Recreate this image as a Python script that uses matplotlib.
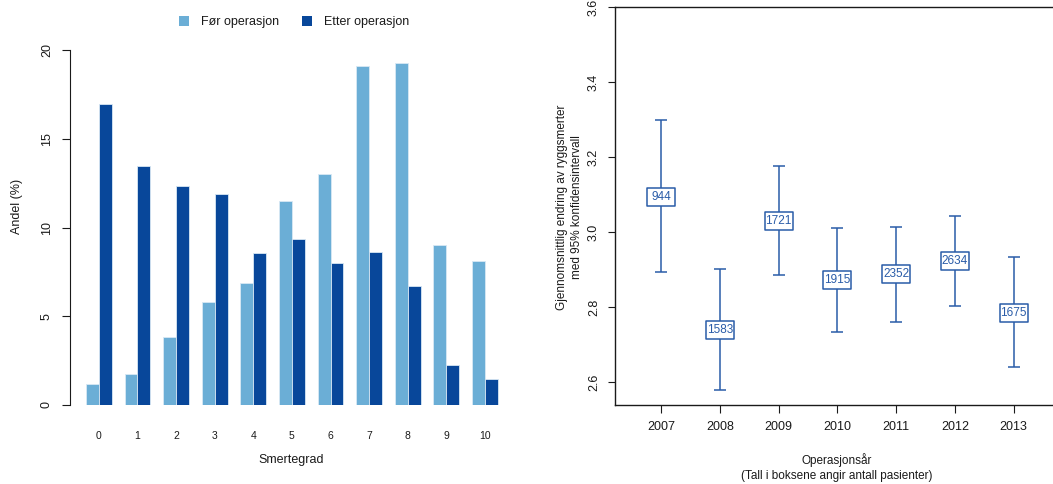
import matplotlib
matplotlib.use("Agg")
import matplotlib.pyplot as plt
import numpy as np
from matplotlib.path import Path
from matplotlib.patches import Patch

plt.rcParams["font.family"] = ["Liberation Sans", "DejaVu Sans"]

# ---- left panel data: pain grade distribution ----
grades = ["0", "1", "2", "3", "4", "5", "6", "7", "8", "9", "10"]
before = [1.2, 1.75, 3.85, 5.8, 6.9, 11.5, 13.05, 19.1, 19.3, 9.05, 8.1]
after = [17.0, 13.45, 12.35, 11.9, 8.55, 9.35, 8.0, 8.65, 6.7, 2.25, 1.45]
legend_labels = ["Før operasjon", "Etter operasjon"]

# ---- right panel data: mean change with 95% CI ----
years = [2007, 2008, 2009, 2010, 2011, 2012, 2013]
means = [3.095, 2.740, 3.031, 2.873, 2.889, 2.924, 2.786]
ci_low = [2.893, 2.579, 2.886, 2.735, 2.762, 2.804, 2.641]
ci_high = [3.299, 2.901, 3.178, 3.011, 3.015, 3.043, 2.933]
n_patients = [944, 1583, 1721, 1915, 2352, 2634, 1675]

light_blue = "#6BAED6"
dark_blue = "#08479A"
ci_blue = "#2A5CA8"
text_col = "#1a1a1a"

W, H = 1053, 484
fig = plt.figure(figsize=(W / 100, H / 100), dpi=100)


def px_axes(left, right, top, bottom):
    return fig.add_axes([left / W, 1 - bottom / H, (right - left) / W, (bottom - top) / H])


# ================= left panel =================
ax1 = px_axes(69.5, 514.3, 34, 405)
idx = np.arange(len(grades))
pos_before = idx * 3 + 1.5
pos_after = idx * 3 + 2.5
ax1.bar(pos_before, before, width=1.0, color=light_blue, edgecolor="#d8e8f4", linewidth=0.6)
ax1.bar(pos_after, after, width=1.0, color=dark_blue, edgecolor="#d8e8f4", linewidth=0.6)
ax1.set_xlim(-0.28, 34.28)
ax1.set_ylim(0, 20.92)
for s in ["top", "right", "bottom"]:
    ax1.spines[s].set_visible(False)
ax1.spines["left"].set_bounds(0, 20)
ax1.spines["left"].set_color(text_col)
ax1.set_yticks([0, 5, 10, 15, 20])
ax1.set_yticklabels(["0", "5", "10", "15", "20"], rotation=90, va="center")
ax1.tick_params(axis="y", length=6, width=0.8, color=text_col, labelsize=9, pad=6,
                labelcolor=text_col)
ax1.set_xticks(idx * 3 + 2)
ax1.set_xticklabels(grades)
ax1.tick_params(axis="x", length=0, labelsize=7.5, pad=19, labelcolor=text_col)
ax1.set_xlabel("Smertegrad", fontsize=9, color=text_col)
ax1.xaxis.label.set_va("center")
ax1.xaxis.set_label_coords(0.498, (405 - 460) / 371)
ax1.set_ylabel("Andel (%)", fontsize=9, color=text_col)
ax1.yaxis.label.set_va("center")
ax1.yaxis.set_label_coords((17 - 69.5) / 444.8, 0.5345)

handles = [Patch(facecolor=light_blue, edgecolor="none"),
           Patch(facecolor=dark_blue, edgecolor="none")]
fig.legend(handles, legend_labels, loc="center", bbox_to_anchor=(294 / W, 1 - 22 / H),
           ncol=2, frameon=False, fontsize=9, handlelength=0.8, handleheight=0.8,
           columnspacing=1.8, handletextpad=1.0, labelcolor=text_col)

# ================= right panel =================
ax2 = px_axes(615.3, 1059.4, 6.7, 405)
err = [np.array(means) - np.array(ci_low), np.array(ci_high) - np.array(means)]
ax2.errorbar(years, means, yerr=err, fmt="none", ecolor=ci_blue, elinewidth=1.1,
             capsize=4.3, capthick=1.1, zorder=2)
box = Path([(-14, -9), (14, -9), (14, 9), (-14, 9), (-14, -9)],
           [Path.MOVETO, Path.LINETO, Path.LINETO, Path.LINETO, Path.CLOSEPOLY])
ax2.plot(years, means, ls="none", marker=box, markersize=20.2, markerfacecolor="white",
         markeredgecolor=ci_blue, markeredgewidth=1.1, zorder=3)
for yr, m, n in zip(years, means, n_patients):
    ax2.text(yr, m, str(n), ha="center", va="center", fontsize=8.5, color=ci_blue, zorder=4)

ax2.set_xlim(2006.22, 2013.78)
ax2.set_ylim(2.5395, 3.6016)
ax2.set_xticks(years)
ax2.set_xticklabels([str(y) for y in years])
ax2.set_yticks([2.6, 2.8, 3.0, 3.2, 3.4, 3.6])
ax2.set_yticklabels(["2.6", "2.8", "3.0", "3.2", "3.4", "3.6"], rotation=90, va="center")
for s in ax2.spines.values():
    s.set_color(text_col)
    s.set_linewidth(1.0)
ax2.tick_params(axis="x", length=5.5, width=0.8, color=text_col, labelsize=9, pad=6,
                labelcolor=text_col)
ax2.tick_params(axis="y", length=5, width=0.8, color=text_col, labelsize=9, pad=6,
                labelcolor=text_col)
ax2.set_xlabel("Operasjonsår\n(Tall i boksene angir antall pasienter)", fontsize=8.5,
               color=text_col, linespacing=1.25)
ax2.xaxis.label.set_va("center")
ax2.xaxis.set_label_coords(0.4986, (405 - 467.5) / 398.3)
ax2.set_ylabel("Gjennomsnittlig endring av ryggsmerter\nmed 95% konfidensintervall",
               fontsize=8.5, color=text_col, linespacing=1.3)
ax2.yaxis.label.set_va("center")
ax2.yaxis.set_label_coords((569.7 - 615.3) / 444.1, 0.497)

fig.savefig("out.png", dpi=100)
